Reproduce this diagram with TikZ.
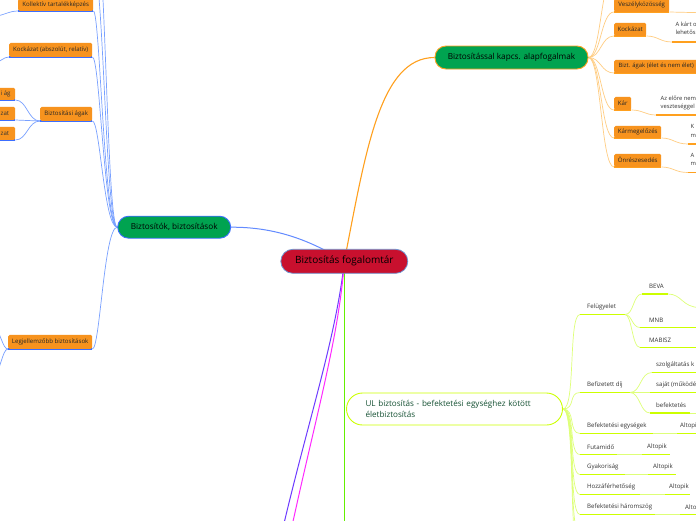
\documentclass[tikz,border=0pt]{standalone}
\usepackage{fontspec}
\setmainfont{Open Sans}
\usetikzlibrary{backgrounds}
\definecolor{rootred}{RGB}{200,16,46}
\definecolor{rootborder}{RGB}{110,150,210}
\definecolor{mgreen}{RGB}{0,163,80}
\definecolor{bline}{RGB}{60,110,255}
\definecolor{blight}{RGB}{120,160,255}
\definecolor{oline}{RGB}{255,160,30}
\definecolor{olight}{RGB}{255,205,130}
\definecolor{oboxc}{RGB}{247,147,30}
\definecolor{limec}{RGB}{204,255,0}
\definecolor{limel}{RGB}{222,255,120}
\definecolor{gline}{RGB}{100,240,0}
\definecolor{magc}{RGB}{255,40,255}
\definecolor{purc}{RGB}{110,60,255}
\definecolor{ultext}{RGB}{20,80,50}
\tikzset{
 rootn/.style={draw=rootborder, line width=0.8pt, fill=rootred, rounded corners=12pt, minimum width=127pt, minimum height=24pt, inner sep=0pt, font=\fontsize{10}{12}\selectfont, text=black},
 mainn/.style={fill=mgreen, line width=0.9pt, rounded corners=11pt, inner sep=0pt, font=\fontsize{8.2}{10}\selectfont, text=black},
 obx/.style={fill=oboxc, rounded corners=1.5pt, inner sep=0pt, anchor=south west, font=\fontsize{6.1}{7}\selectfont, text=black!85},
 stext/.style={inner sep=0pt, font=\fontsize{5.8}{8.3}\selectfont, text=black!80, align=left, anchor=north west},
 ltext/.style={inner sep=0pt, font=\fontsize{6.1}{7}\selectfont, text=black!80, anchor=west},
 bconn/.style={draw=blight, line width=0.7pt},
 bul/.style={draw=bline, line width=1.2pt},
 oconn/.style={draw=olight, line width=0.7pt},
 oul/.style={draw=oline, line width=1.1pt},
 lconn/.style={draw=limel, line width=0.7pt},
 lul/.style={draw=limec, line width=1.3pt},
}
\begin{document}
\begin{tikzpicture}[x=1pt,y=-1pt]
\useasboundingbox (0,0) rectangle (696,520);
% ---------- main nodes
\node[rootn] (root) at (344.3,261.3) {Biztosítás fogalomtár};
\node[mainn, draw=bline, minimum width=113pt, minimum height=22pt] (lm) at (174.2,227.2) {Biztosítók, biztosítások};
\node[mainn, draw=oline, minimum width=153pt, minimum height=23pt] (rm) at (511.5,57.5) {Biztosítással kapcs. alapfogalmak};
\node[draw=limec, line width=0.9pt, fill=white, rounded corners=16pt, minimum width=216pt, minimum height=32pt, text width=178pt, inner xsep=19pt, align=left, font=\fontsize{8.1}{10.5}\selectfont, text=ultext] (ul) at (454.5,409) {UL biztosítás - befektetési egységhez kötött\\életbiztosítás};
% ---------- left boxes
\node[obx, minimum width=75pt, minimum height=12pt] (kol) at (18,11) {Kollektív tartalékképzés};
\node[obx, minimum width=83pt, minimum height=14pt] (kock) at (9,57) {Kockázat (abszolút, relatív)};
\node[obx, minimum width=52pt, minimum height=14pt] (bag) at (40,121) {Biztosítási ágak};
\node[obx, minimum width=84pt, minimum height=14pt] (leg) at (8,349) {Legjellemzőbb biztosítások};
\node[obx, minimum width=36pt, minimum height=12pt] (b1) at (-21,100) {};
\node[obx, minimum width=36pt, minimum height=13pt] (b2) at (-21,120) {};
\node[obx, minimum width=36pt, minimum height=13pt] (b3) at (-21,140) {};
\node[ltext] (b1t) at (0.5,94) {i ág};
\node[ltext] (b2t) at (0.5,113.5) {zat};
\node[ltext] (b3t) at (0.5,133.5) {zat};
% ---------- right boxes
\node[obx, minimum width=55pt, minimum height=13pt] (vesz) at (614,12) {Veszélyközösség};
\node[obx, minimum width=32pt, minimum height=13pt] (kock2) at (614,36) {Kockázat};
\node[obx, minimum width=84pt, minimum height=13pt, font=\fontsize{5.9}{7}\selectfont] (bag2) at (614,73) {Bizt. ágak (élet és nem élet)};
\node[obx, minimum width=17pt, minimum height=13pt] (kar) at (614,110) {Kár};
\node[obx, minimum width=47pt, minimum height=12pt] (karm) at (614,138) {Kármegelőzés};
\node[obx, minimum width=47pt, minimum height=13pt] (onr) at (614,167) {Önrészesedés};
\node[stext] (kock2t) at (675.5,21.5) {A kárt o\\lehetős};
\node[stext] (kart) at (660.5,95.5) {Az előre nem\\veszteséggel};
\node[stext] (karmt) at (690.5,124.5) {K\\m};
\node[stext] (onrt) at (690.5,153) {A\\m};
% ---------- UL children
\node[ltext] (fel) at (587,307) {Felügyelet};
\node[ltext] (beva) at (649,286) {BEVA};
\node[ltext] (mnb) at (649,320) {MNB};
\node[ltext] (mab) at (649,340) {MABISZ};
\node[ltext] (bdij) at (587,384.5) {Befizetett díj};
\node[ltext] (szol) at (656,364.5) {szolgáltatás k};
\node[ltext] (saj) at (656,384.5) {saját (működé};
\node[ltext] (bef) at (656,405) {befektetés};
\node[ltext] (begy) at (587,426) {Befektetési egységek};
\node[ltext] (alt1) at (680,426) {Altopi};
\node[ltext] (fut) at (587,447) {Futamidő};
\node[ltext] (alt2) at (647,447) {Altopik};
\node[ltext] (gyak) at (587,467) {Gyakoriság};
\node[ltext] (alt3) at (653,467) {Altopik};
\node[ltext] (hozz) at (587,487) {Hozzáférhetőség};
\node[ltext] (alt4) at (669,487) {Altopik};
\node[ltext] (bhar) at (587,507) {Befektetési háromszög};
\node[ltext] (alt5) at (685,507) {Alto};
% ---------- free ends and attachment points
\coordinate (offb1) at (92,-40);
\coordinate (offb2) at (92,-100);
\coordinate (offkol) at (-10,17);
\coordinate (offkock) at (-10,64);
\coordinate (offleg1) at (-10,320);
\coordinate (offleg2) at (-10,385);
\coordinate (offr) at (614,-25);
\coordinate (gend) at (344.3,540);
\coordinate (mend) at (288,545);
\coordinate (pend) at (279,545);
\coordinate (rb) at (700,12.7);
\coordinate (k2a) at (672,42);  \coordinate (k2b) at (700,42);
\coordinate (kara) at (656,115); \coordinate (karb) at (700,115);
\coordinate (kma) at (688,144); \coordinate (kmb) at (700,144);
\coordinate (ona) at (688,172.5); \coordinate (onb) at (700,172.5);
% UL underline points
\coordinate (fel1) at (580,314.5); \coordinate (fel2) at (625,314.5);
\coordinate (bv1) at (642,294); \coordinate (bv2) at (668,294); \coordinate (bv3) at (700,307.5);
\coordinate (mn1) at (640,327.5); \coordinate (mn2) at (700,327.5);
\coordinate (ma1) at (640,347.5); \coordinate (ma2) at (700,347.5);
\coordinate (bd1) at (580,392.5); \coordinate (bd2) at (630,392.5);
\coordinate (sz1) at (652,372.5); \coordinate (sz2) at (700,372.5);
\coordinate (sa1) at (650,392.5); \coordinate (sa2) at (700,392.5);
\coordinate (bf1) at (650,413); \coordinate (bf2) at (690,413); \coordinate (bf3) at (700,413);
\coordinate (be1) at (580,433.5); \coordinate (be2) at (653,433.5); \coordinate (be3) at (677,433.5); \coordinate (be4) at (700,433.5);
\coordinate (fu1) at (580,454.5); \coordinate (fu2) at (617,454.5); \coordinate (fu3) at (642,454.5); \coordinate (fu4) at (670,454.5);
\coordinate (gy1) at (580,474.5); \coordinate (gy2) at (625,474.5); \coordinate (gy3) at (648,474.5); \coordinate (gy4) at (676,474.5);
\coordinate (ho1) at (580,494.5); \coordinate (ho2) at (640,494.5); \coordinate (ho3) at (665,494.5); \coordinate (ho4) at (690,494.5);
\coordinate (bh1) at (580,514.5); \coordinate (bh2) at (655,514.5); \coordinate (bh3) at (680,514.5); \coordinate (bh4) at (700,514.5);
\coordinate (ofl1) at (580,535); \coordinate (ofl2) at (580,555);
\begin{pgfonlayer}{background}
\fill[white] (-5,-5) rectangle (701,525);
% main connectors
\draw[bline!80, line width=1pt] (lm.east) .. controls (275,227) and (310,240) .. (root.center);
\draw[oline, line width=1.1pt] (root.center) .. controls (366,150) and (380,57.5) .. (rm.west);
\draw[gline, line width=1.4pt] (root.center) -- (gend);
\draw[purc, line width=1pt] (root.center) .. controls (336,340) and (305,430) .. (pend);
\draw[magc, line width=1pt] (root.center) .. controls (339,340) and (312,430) .. (mend);
% left connectors
\draw[bconn] (lm.west) .. controls (105,227.2) and (104,-40) .. (offb1);
\draw[bconn] (lm.west) .. controls (106,227.2) and (106,-100) .. (offb2);
\draw[bconn] (lm.west) .. controls (104,227.2) and (100,11) .. (kol.south east);
\draw[bconn] (lm.west) .. controls (104,227.2) and (100,57) .. (kock.south east);
\draw[bconn] (lm.west) .. controls (104,227.2) and (100,121) .. (bag.south east);
\draw[bconn] (lm.west) .. controls (104,227.2) and (100,349) .. (leg.south east);
\draw[bul] (kol.south west) -- (kol.south east);
\draw[bul] (kock.south west) -- (kock.south east);
\draw[bul] (bag.south west) -- (bag.south east);
\draw[bul] (leg.south west) -- (leg.south east);
\draw[bconn] (kol.south west) .. controls (8,11) and (4,16) .. (offkol);
\draw[bconn] (kock.south west) .. controls (3,57) and (2,62) .. (offkock);
\draw[bconn] (leg.south west) .. controls (2,349) and (1,330) .. (offleg1);
\draw[bconn] (leg.south west) .. controls (2,349) and (1,372) .. (offleg2);
\draw[bconn] (bag.south west) .. controls (28,121) and (27,100) .. (b1.south east);
\draw[bconn] (bag.south west) -- (b2.south east);
\draw[bconn] (bag.south west) .. controls (28,121) and (27,140) .. (b3.south east);
\draw[bul] (b1.south west) -- (b1.south east);
\draw[bul] (b2.south west) -- (b2.south east);
\draw[bul] (b3.south west) -- (b3.south east);
% right connectors
\foreach \b in {vesz,kock2,bag2,kar,karm,onr} {\draw[oul] (\b.south west) -- (\b.south east);}
\draw[oconn] (rm.east) .. controls (601,57.5) and (601,-25) .. (offr);
\draw[oconn] (rm.east) .. controls (601,57.5) and (601,12) .. (vesz.south west);
\draw[oconn] (rm.east) .. controls (601,57.5) and (601,36) .. (kock2.south west);
\draw[oconn] (rm.east) .. controls (601,57.5) and (601,73) .. (bag2.south west);
\draw[oconn] (rm.east) .. controls (601,57.5) and (601,110) .. (kar.south west);
\draw[oconn] (rm.east) .. controls (601,57.5) and (601,138) .. (karm.south west);
\draw[oconn] (rm.east) .. controls (601,57.5) and (601,167) .. (onr.south west);
\draw[oconn] (vesz.south east) -- (rb);
\draw[oconn] (kock2.south east) .. controls (658,36) and (660,42) .. (k2a);
\draw[oul] (k2a) -- (k2b);
\draw[oconn] (kar.south east) .. controls (643,110) and (645,115) .. (kara);
\draw[oul] (kara) -- (karb);
\draw[oconn] (karm.south east) .. controls (673,138) and (675,144) .. (kma);
\draw[oul] (kma) -- (kmb);
\draw[oconn] (onr.south east) .. controls (673,167) and (675,172.5) .. (ona);
\draw[oul] (ona) -- (onb);
% UL connectors
\draw[lconn] (ul.east) .. controls (576,409) and (568,314.5) .. (fel1);
\draw[lconn] (ul.east) .. controls (576,409) and (568,392.5) .. (bd1);
\draw[lconn] (ul.east) .. controls (576,409) and (568,433.5) .. (be1);
\draw[lconn] (ul.east) .. controls (576,409) and (568,454.5) .. (fu1);
\draw[lconn] (ul.east) .. controls (576,409) and (568,474.5) .. (gy1);
\draw[lconn] (ul.east) .. controls (576,409) and (568,494.5) .. (ho1);
\draw[lconn] (ul.east) .. controls (576,409) and (568,514.5) .. (bh1);
\draw[lconn] (ul.east) .. controls (576,409) and (568,535) .. (ofl1);
\draw[lconn] (ul.east) .. controls (576,409) and (568,555) .. (ofl2);
\draw[lul] (fel1) -- (fel2);
\draw[lconn] (fel2) .. controls (634,314.5) and (633,294) .. (bv1);
\draw[lconn] (fel2) .. controls (632,314.5) and (632,327.5) .. (mn1);
\draw[lconn] (fel2) .. controls (632,314.5) and (632,347.5) .. (ma1);
\draw[lul] (bv1) -- (bv2);
\draw[lconn] (bv2) .. controls (682,294) and (682,307.5) .. (bv3);
\draw[lul] (mn1) -- (mn2);
\draw[lul] (ma1) -- (ma2);
\draw[lul] (bd1) -- (bd2);
\draw[lconn] (bd2) .. controls (641,392.5) and (640,372.5) .. (sz1);
\draw[lconn] (bd2) -- (sa1);
\draw[lconn] (bd2) .. controls (640,392.5) and (640,413) .. (bf1);
\draw[lul] (sz1) -- (sz2);
\draw[lul] (sa1) -- (sa2);
\draw[lul] (bf1) -- (bf2);
\draw[lconn] (bf2) -- (bf3);
\draw[lul] (be1) -- (be2); \draw[lconn] (be2) -- (be3); \draw[lul] (be3) -- (be4);
\draw[lul] (fu1) -- (fu2); \draw[lconn] (fu2) -- (fu3); \draw[lul] (fu3) -- (fu4);
\draw[lul] (gy1) -- (gy2); \draw[lconn] (gy2) -- (gy3); \draw[lul] (gy3) -- (gy4);
\draw[lul] (ho1) -- (ho2); \draw[lconn] (ho2) -- (ho3); \draw[lul] (ho3) -- (ho4);
\draw[lul] (bh1) -- (bh2); \draw[lconn] (bh2) -- (bh3); \draw[lul] (bh3) -- (bh4);
\end{pgfonlayer}
\end{tikzpicture}
\end{document}
